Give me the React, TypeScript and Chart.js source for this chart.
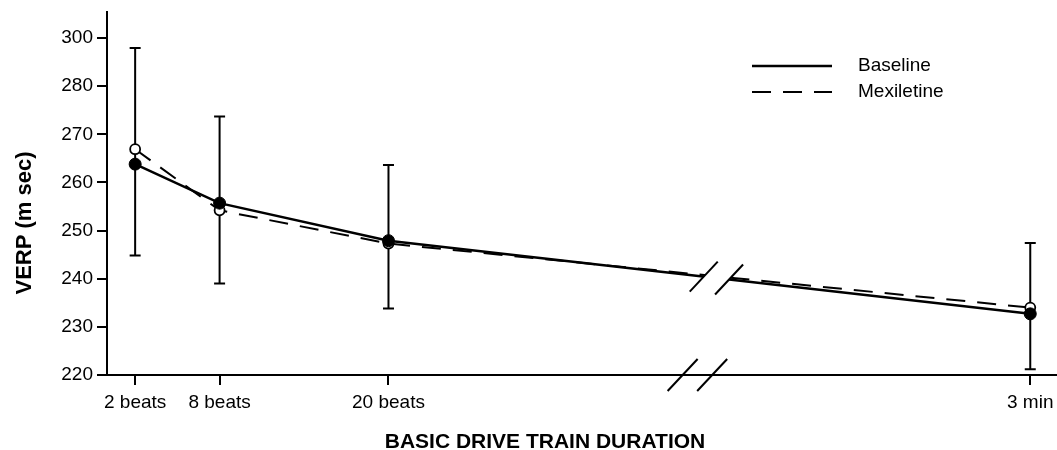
import React, { useEffect, useRef } from 'react';
import { Chart, registerables } from 'chart.js';

Chart.register(...registerables);

// ---- data ----
const categories = ['2 beats', '8 beats', '20 beats', '3 min'];
const xPositions = [2, 8, 20, 65.6];
const baseline = [263.8, 255.7, 247.9, 232.7];
const mexiletine = [266.9, 254.2, 247.3, 234.0];
const errHigh = [287.9, 273.7, 263.6, 247.4];
const errLow = [244.8, 239.0, 233.8, 221.2];
const yTickValues = [220, 230, 240, 250, 260, 270, 280, 290];
const yTickLabels = ['220', '230', '240', '250', '260', '270', '280', '300'];
const seriesNames = ['Baseline', 'Mexiletine'];
const breakLineX = [42.4, 44.2];
const breakAxisX = [40.9, 43.0];

const FONT = "'Liberation Sans', Arial, Helvetica, sans-serif";
const MEX_DASH = [19, 12];

function interpBaseline(xv: number): number {
  for (let i = 0; i < xPositions.length - 1; i++) {
    const a = xPositions[i], b = xPositions[i + 1];
    if (xv >= a && xv <= b) {
      const t = (xv - a) / (b - a);
      return baseline[i] + t * (baseline[i + 1] - baseline[i]);
    }
  }
  return baseline[baseline.length - 1];
}

const errorBarsPlugin = {
  id: 'errorBars',
  beforeDatasetsDraw(chart: any) {
    const { ctx, scales } = chart;
    const x = scales.x, y = scales.y;
    ctx.save();
    ctx.strokeStyle = '#000';
    ctx.lineWidth = 2;
    xPositions.forEach((xv, i) => {
      const px = x.getPixelForValue(xv);
      const top = y.getPixelForValue(errHigh[i]);
      const bot = y.getPixelForValue(errLow[i]);
      ctx.beginPath();
      ctx.moveTo(px, top);
      ctx.lineTo(px, bot);
      ctx.moveTo(px - 5.5, top);
      ctx.lineTo(px + 5.5, top);
      ctx.moveTo(px - 5.5, bot);
      ctx.lineTo(px + 5.5, bot);
      ctx.stroke();
    });
    ctx.restore();
  },
};

const decorPlugin = {
  id: 'decor',
  afterDraw(chart: any) {
    const { ctx, scales, chartArea } = chart;
    const x = scales.x, y = scales.y;
    ctx.save();
    // axis break on the data lines
    const pts = breakLineX.map((xv) => ({
      px: x.getPixelForValue(xv),
      py: y.getPixelForValue(interpBaseline(xv)),
    }));
    const dx = 14, dy = 15;
    ctx.fillStyle = '#fff';
    ctx.beginPath();
    ctx.moveTo(pts[0].px - dx, pts[0].py + dy);
    ctx.lineTo(pts[0].px + dx, pts[0].py - dy);
    ctx.lineTo(pts[1].px + dx, pts[1].py - dy);
    ctx.lineTo(pts[1].px - dx, pts[1].py + dy);
    ctx.closePath();
    ctx.fill();
    ctx.strokeStyle = '#000';
    ctx.lineWidth = 2;
    pts.forEach((p) => {
      ctx.beginPath();
      ctx.moveTo(p.px - dx, p.py + dy);
      ctx.lineTo(p.px + dx, p.py - dy);
      ctx.stroke();
    });
    // axis break on the x axis
    const ay = chartArea.bottom;
    breakAxisX.forEach((xv) => {
      const px = x.getPixelForValue(xv);
      ctx.beginPath();
      ctx.moveTo(px - 15, ay + 16);
      ctx.lineTo(px + 15, ay - 16);
      ctx.stroke();
    });

    // legend
    ctx.fillStyle = '#000';
    ctx.font = `19px ${FONT}`;
    ctx.textBaseline = 'middle';
    ctx.textAlign = 'left';
    const lx0 = 752, lx1 = 832, tx = 858;
    const rows = [66, 92];
    seriesNames.forEach((name, i) => {
      ctx.beginPath();
      ctx.lineWidth = i === 0 ? 2.5 : 2;
      ctx.setLineDash(i === 0 ? [] : MEX_DASH);
      ctx.moveTo(lx0, rows[i]);
      ctx.lineTo(lx1, rows[i]);
      ctx.stroke();
      ctx.setLineDash([]);
      ctx.fillText(name, tx, rows[i]);
    });

    // axis titles
    ctx.font = `bold 21px ${FONT}`;
    ctx.textAlign = 'center';
    ctx.textBaseline = 'alphabetic';
    ctx.fillText('BASIC DRIVE TRAIN DURATION', 545, 448);
    ctx.save();
    ctx.translate(31, 223);
    ctx.rotate(-Math.PI / 2);
    ctx.font = `bold 22px ${FONT}`;
    ctx.fillText('VERP (m sec)', 0, 0);
    ctx.restore();
    ctx.restore();
  },
};

export default function App() {
  const ref = useRef<HTMLCanvasElement | null>(null);
  useEffect(() => {
    if (!ref.current) return;
    const chart = new Chart(ref.current, {
      type: 'line',
      data: {
        datasets: [
          {
            label: seriesNames[0],
            data: xPositions.map((xv, i) => ({ x: xv, y: baseline[i] })),
            borderColor: '#000',
            borderWidth: 2.5,
            pointRadius: 6,
            pointBackgroundColor: '#000',
            pointBorderColor: '#000',
            pointBorderWidth: 1,
            tension: 0,
            fill: false,
          },
          {
            label: seriesNames[1],
            data: xPositions.map((xv, i) => ({ x: xv, y: mexiletine[i] })),
            borderColor: '#000',
            borderWidth: 2,
            borderDash: MEX_DASH,
            pointRadius: 5,
            pointBackgroundColor: '#fff',
            pointBorderColor: '#000',
            pointBorderWidth: 1.8,
            tension: 0,
            fill: false,
          },
        ],
      },
      options: {
        animation: false,
        responsive: false,
        layout: { autoPadding: false, padding: { top: 12, left: 0, right: 0, bottom: 0 } },
        plugins: {
          legend: { display: false },
          tooltip: { enabled: false },
        },
        scales: {
          x: {
            type: 'linear',
            min: 0,
            max: 67.5,
            afterBuildTicks: (s: any) => {
              s.ticks = xPositions.map((v) => ({ value: v }));
            },
            afterFit: (s: any) => {
              s.height = 75;
              s.paddingLeft = 0;
              s.paddingRight = 0;
            },
            ticks: {
              autoSkip: false,
              maxRotation: 0,
              padding: 6,
              color: '#000',
              font: { family: FONT, size: 19 },
              callback: (_v: any, i: number) => categories[i],
            },
            grid: {
              drawOnChartArea: false,
              drawTicks: true,
              tickLength: 10,
              color: '#000',
              lineWidth: 2,
            },
            border: { display: true, color: '#000', width: 2 },
          },
          y: {
            type: 'linear',
            min: 220,
            max: 295.4,
            afterBuildTicks: (s: any) => {
              s.ticks = yTickValues.map((v) => ({ value: v }));
            },
            afterFit: (s: any) => {
              s.width = 107;
              s.paddingTop = 0;
              s.paddingBottom = 0;
            },
            ticks: {
              autoSkip: false,
              padding: 4,
              color: '#000',
              font: { family: FONT, size: 19 },
              callback: (_v: any, i: number) => yTickLabels[i],
            },
            grid: {
              drawOnChartArea: false,
              drawTicks: true,
              tickLength: 10,
              color: '#000',
              lineWidth: 2,
            },
            border: { display: true, color: '#000', width: 2 },
          },
        },
      },
      plugins: [errorBarsPlugin, decorPlugin],
    });
    return () => chart.destroy();
  }, []);

  return (
    <div style={{ position: 'absolute', left: 0, top: 0, width: 1057, height: 450, background: '#fff' }}>
      <canvas ref={ref} width={1057} height={450} />
    </div>
  );
}
